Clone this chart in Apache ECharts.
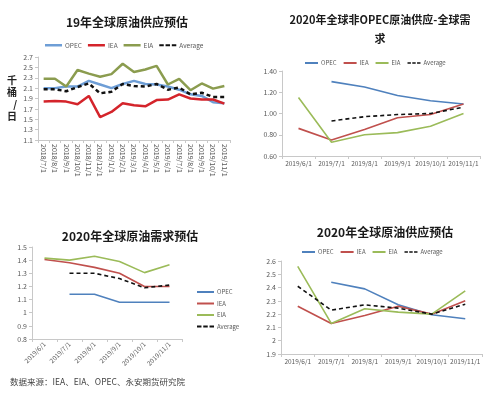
<!DOCTYPE html>
<html><head><meta charset="utf-8">
<script src="https://cdn.jsdelivr.net/npm/echarts@6/dist/echarts.min.js"></script>
<style>
html,body{margin:0;padding:0;background:#fff;}
.c{position:absolute;left:0;top:0;width:500px;height:393px;}
</style></head>
<body>
<div id="c1" class="c"></div><div id="c2" class="c"></div><div id="c3" class="c"></div><div id="c4" class="c"></div>
<script>
// ---- Chart 1: 19年全球原油供应预估 ----
const cats1 = ['2018/7/1','2018/8/1','2018/9/1','2018/10/1','2018/11/1','2018/12/1','2019/1/1','2019/2/1','2019/3/1','2019/4/1','2019/5/1','2019/6/1','2019/7/1','2019/8/1','2019/9/1','2019/10/1','2019/11/1'];
const opec1 = [2.10,2.10,2.13,2.13,2.24,2.17,2.10,2.18,2.24,2.18,2.17,2.13,2.07,1.98,1.95,1.83,1.81];
const iea1  = [1.84,1.85,1.84,1.79,1.95,1.54,1.64,1.81,1.77,1.75,1.87,1.88,1.98,1.90,1.88,1.88,1.80];
const eia1  = [2.28,2.28,2.13,2.45,2.38,2.32,2.37,2.57,2.41,2.46,2.53,2.17,2.28,2.06,2.19,2.09,2.14];
const avg1  = [2.08,2.08,2.04,2.12,2.19,2.00,2.03,2.18,2.14,2.13,2.18,2.07,2.11,1.98,2.01,1.93,1.93];
const yTicks1 = {min:1.1, max:2.7, step:0.2};

// ---- Chart 2: 2020年全球非OPEC原油供应-全球需求 ----
const cats2 = ['2019/6/1','2019/7/1','2019/8/1','2019/9/1','2019/10/1','2019/11/1'];
const opec2 = [null,1.30,1.25,1.17,1.12,1.09];
const iea2  = [0.86,0.75,0.85,0.96,0.99,1.09];
const eia2  = [1.15,0.73,0.80,0.82,0.88,1.00];
const avg2  = [null,0.93,0.97,0.99,1.00,1.06];
const yTicks2 = {min:0.6, max:1.4, step:0.2};

// ---- Chart 3: 2020年全球原油需求预估 ----
const cats3 = ['2019/6/1','2019/7/1','2019/8/1','2019/9/1','2019/10/1','2019/11/1'];
const opec3 = [null,1.14,1.14,1.08,1.08,1.08];
const iea3  = [1.405,1.38,1.345,1.30,1.20,1.20];
const eia3  = [1.415,1.40,1.43,1.39,1.305,1.365];
const avg3  = [null,1.30,1.30,1.26,1.19,1.21];
const yTicks3 = {min:0.8, max:1.5, step:0.1};

// ---- Chart 4: 2020年全球原油供应预估 ----
const cats4 = ['2019/6/1','2019/7/1','2019/8/1','2019/9/1','2019/10/1','2019/11/1'];
const opec4 = [null,2.44,2.39,2.27,2.195,2.165];
const iea4  = [2.26,2.13,2.19,2.26,2.20,2.30];
const eia4  = [2.56,2.13,2.24,2.215,2.20,2.375];
const avg4  = [2.41,2.23,2.27,2.245,2.20,2.275];
const yTicks4 = {min:1.9, max:2.6, step:0.1};

const names = ['OPEC','IEA','EIA','Average'];
const source = '数据来源：IEA、EIA、OPEC、永安期货研究院';

const FONT = '"Noto Sans CJK SC", "Noto Sans", sans-serif';
const LBL = '#595959';
const DASH_ICON = 'path://M0,0h5v2h-5zM7,0h5v2h-5zM14,0h5v2h-5z';

function legendData(){
  return names.map((n,i)=>({name:n, icon: i===3 ? DASH_ICON : 'rect'}));
}
function mkSeries(vals, colors, width){
  return vals.map((v,i)=>({
    name:names[i], type:'line', data:v, symbol:'none', connectNulls:false,
    lineStyle:{color:colors[i], width: width, type: i===3 ? [4,3] : 'solid'},
    itemStyle:{color:colors[i]}, z: i===3?5:3
  }));
}
function yAxisCfg(t, dec, extra){
  return Object.assign({
    type:'value', min:t.min, max:t.max, interval:t.step,
    axisLine:{show:true, lineStyle:{color:'#c8c8c8'}},
    axisTick:{show:true, length:3, lineStyle:{color:'#c8c8c8'}},
    splitLine:{show:false},
    axisLabel:{color:LBL, fontSize:7, margin:5, fontFamily:FONT,
      formatter: v => dec===null ? String(+v.toFixed(1)) : v.toFixed(dec)}
  }, extra||{});
}
function xAxisCfg(cats, rot, fs){
  return {
    type:'category', data:cats, boundaryGap:true,
    axisLine:{show:true, lineStyle:{color:'#c8c8c8'}},
    axisTick:{show:true, length:3, lineStyle:{color:'#c8c8c8'}},
    axisLabel:{color:LBL, fontSize:fs, rotate:rot, interval:0, margin:4, fontFamily:FONT}
  };
}
function titleCfg(text, x, y, fs){
  return {text:text, left:x, top:y, textAlign:'center',
    textStyle:{fontSize:fs||12, fontWeight:'bold', color:'#1a1a1a', fontFamily:FONT, lineHeight:19}};
}
const legTxt = {fontSize:6, color:LBL, fontFamily:FONT, padding:[0,0,0,-2]};

// Chart 1
const col1 = ['#6e9ed6','#d4242b','#8b9c4f','#111'];
echarts.init(document.getElementById('c1')).setOption({
  animation:false,
  title: titleCfg('19年全球原油供应预估', 122, 8),
  legend:{data:legendData(), left:40, top:37, itemWidth:17, itemHeight:2.5, itemGap:6, textStyle:Object.assign({},legTxt,{fontSize:6.5})},
  grid:{left:38, right:270, top:57, bottom:253},
  xAxis: xAxisCfg(cats1, -90, 7),
  yAxis: yAxisCfg(yTicks1, 1, {name:'千\n桶\n/\n日', nameLocation:'middle', nameRotate:0, nameGap:21,
    nameTextStyle:{fontSize:10, fontWeight:'bold', color:'#222', lineHeight:12, fontFamily:FONT}}),
  series: mkSeries([opec1,iea1,eia1,avg1], col1, 2.5),
  graphic:[{type:'text', left:10, top:378, style:{text:source, fontSize:8.5, fill:'#444', fontFamily:FONT}}]
});

const colB = ['#4f81bd','#c0504d','#9bbb59','#111'];
// Chart 2
echarts.init(document.getElementById('c2')).setOption({
  animation:false,
  title: titleCfg('2020年全球非OPEC原油供应-全球需\n求', 375, 5, 11),
  legend:{data:legendData(), left:300, top:55, itemWidth:13, itemHeight:2, itemGap:7, textStyle:legTxt},
  grid:{left:282, right:20, top:71, bottom:237},
  xAxis: xAxisCfg(cats2, 0, 6.5),
  yAxis: yAxisCfg(yTicks2, 2),
  series: mkSeries([opec2,iea2,eia2,avg2], colB, 1.6)
});
// Chart 3
echarts.init(document.getElementById('c3')).setOption({
  animation:false,
  title: titleCfg('2020年全球原油需求预估', 125, 222),
  legend:{data:legendData(), orient:'vertical', left:192, top:284, itemWidth:17, itemHeight:2, itemGap:5.5, textStyle:legTxt},
  grid:{left:32, right:318, top:247, bottom:54},
  xAxis: xAxisCfg(cats3, 45, 6.5),
  yAxis: yAxisCfg(yTicks3, null),
  series: mkSeries([opec3,iea3,eia3,avg3], colB, 1.6)
});
// Chart 4
echarts.init(document.getElementById('c4')).setOption({
  animation:false,
  title: titleCfg('2020年全球原油供应预估', 380, 218),
  legend:{data:legendData(), left:297, top:244, itemWidth:13, itemHeight:2, itemGap:7, textStyle:legTxt},
  grid:{left:281, right:18, top:261, bottom:39},
  xAxis: xAxisCfg(cats4, 0, 6.5),
  yAxis: yAxisCfg(yTicks4, null),
  series: mkSeries([opec4,iea4,eia4,avg4], colB, 1.6)
});
</script>
</body></html>
